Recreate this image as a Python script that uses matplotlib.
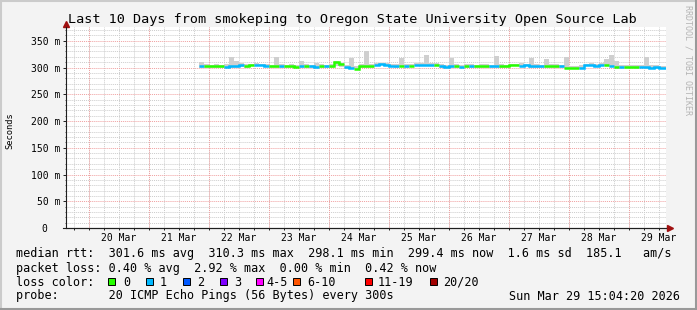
import matplotlib
matplotlib.use("Agg")
import matplotlib.pyplot as plt
import matplotlib.dates as mdates
from matplotlib.lines import Line2D
from matplotlib.patches import Rectangle
from matplotlib.ticker import MultipleLocator
import pandas as pd

W, H = 697, 310
MONO = "DejaVu Sans Mono"

graph_start = pd.Timestamp("2026-03-19 15:04:20")
graph_end = pd.Timestamp("2026-03-29 15:04:20")
data_start = pd.Timestamp("2026-03-21 20:00")

# median rtt per 2h bin (ms)
median_ms = [
    303, 302, 302, 302.5, 302, 301.5, 302, 302, 304, 302,
    304, 304.5, 304, 303.5, 302.5, 302, 302.5, 302, 302.5, 301,
    302, 302.5, 302, 301.5, 302, 302.5, 302, 310.3, 306, 300.5,
    298.5, 298.1, 302.5, 302, 302.5, 305.5, 306, 305.5, 303, 302.5,
    303, 302.5, 303, 305, 305, 304.5, 305, 305.5, 302, 301.5,
    302, 302, 301.5, 302, 302.5, 302, 302.5, 302.5, 302, 302.5,
    302, 302.5, 304, 304, 303.5, 304, 302.5, 302, 302.5, 302,
    303, 302.5, 302, 299.5, 299, 299.5, 300, 304, 304, 303.5,
    304, 304, 303.5, 301, 301.5, 301, 301, 300.5, 301, 300.5,
    300, 300.5, 300, 299.4,
]
# lost pings (of 20) per bin
loss_count = [
    1, 0, 0, 0, 0, 1, 1, 1, 1, 0,
    0, 1, 1, 1, 0, 0, 1, 0, 0, 0,
    1, 0, 1, 1, 0, 1, 0, 0, 0, 1,
    1, 0, 0, 0, 0, 1, 1, 1, 1, 1,
    0, 1, 0, 1, 1, 1, 1, 0, 1, 1,
    1, 0, 1, 0, 1, 0, 0, 0, 1, 1,
    0, 0, 0, 0, 1, 1, 1, 1, 1, 0,
    0, 0, 1, 0, 0, 0, 1, 1, 1, 1,
    1, 0, 1, 0, 1, 0, 0, 0, 1, 1,
    1, 1, 1, 1,
]
smoke_hi_ms = [
    310, 306, 305, 306, 305, 307, 319, 312, 308, 306,
    307, 308, 307, 306, 305, 319, 306, 305, 306, 305,
    312, 306, 305, 308, 306, 305, 306, 312, 309, 304,
    317, 302, 306, 331, 306, 308, 309, 308, 306, 307,
    317, 306, 307, 308, 308, 323, 308, 309, 306, 305,
    318, 306, 305, 306, 306, 305, 307, 306, 305, 321,
    306, 305, 307, 307, 308, 307, 317, 306, 305, 316,
    307, 306, 305, 320, 303, 303, 304, 307, 308, 307,
    309, 316, 323, 313, 305, 304, 305, 304, 304, 320,
    304, 305, 303, 303,
]
smoke_lo_ms = [
    300, 300, 300, 300, 300, 299, 300, 300, 301, 300,
    302, 302, 302, 301, 300, 300, 300, 300, 300, 299,
    300, 300, 300, 299, 300, 300, 300, 303, 301, 298,
    297, 297, 300, 300, 300, 303, 304, 303, 301, 300,
    301, 300, 301, 303, 303, 302, 303, 303, 300, 299,
    300, 300, 299, 300, 300, 300, 300, 300, 300, 300,
    300, 300, 302, 302, 301, 302, 300, 300, 300, 300,
    300, 300, 300, 297, 297, 297, 298, 302, 302, 301,
    302, 302, 301, 299, 299, 299, 299, 298, 299, 298,
    298, 298, 298, 297,
]

loss_labels = ["0", "1", "2", "3", "4-5", "6-10", "11-19", "20/20"]
loss_colors = ["#26ff00", "#00b8ff", "#0059ff", "#7e00ff",
               "#ff00ff", "#ff5500", "#ff0000", "#a10000"]
loss_box_x = [108, 146, 183, 220, 256, 293, 365, 430]
loss_label_x = [123, 160, 197, 234, 266, 307, 378, 443]

y_ticks = [0, 50, 100, 150, 200, 250, 300, 350]
y_tick_labels = ["0  ", "50 m", "100 m", "150 m", "200 m", "250 m", "300 m", "350 m"]

legend_lines = [
    "median rtt:  301.6 ms avg  310.3 ms max  298.1 ms min  299.4 ms now  1.6 ms sd  185.1   am/s",
    "packet loss: 0.40 % avg  2.92 % max  0.00 % min  0.42 % now",
    "loss color:",
    "probe:       20 ICMP Echo Pings (56 Bytes) every 300s",
]
legend_y = [254, 268.5, 282, 296]


def fx(x):
    return x / W


def fy(y):
    return 1 - y / H


fig = plt.figure(figsize=(W / 100, H / 100), dpi=100, facecolor="#f3f3f3")
ax = fig.add_axes([fx(66.4), fy(228), 600 / W, 200.6 / H])
ax.set_facecolor("white")

edges = pd.date_range(data_start, periods=len(median_ms) + 1, freq="2h")
edges_num = mdates.date2num(edges.to_pydatetime())

# smoke
ax.stairs(smoke_hi_ms, edges_num, baseline=smoke_lo_ms, fill=True,
          color="#cfcfcf", zorder=2)

# median line, one stair per run of equal loss colour
start = 0
for i in range(1, len(median_ms) + 1):
    if i == len(median_ms) or loss_count[i] != loss_count[start]:
        ax.stairs(median_ms[start:i], edges_num[start:i + 1], baseline=None,
                  color=loss_colors[loss_count[start]], lw=1.8, zorder=3)
        start = i

ax.set_xlim(mdates.date2num(graph_start.to_pydatetime()),
            mdates.date2num(graph_end.to_pydatetime()))
ax.set_ylim(0, 375)

ax.xaxis.set_major_locator(mdates.HourLocator(byhour=12))
ax.xaxis.set_major_formatter(mdates.DateFormatter("%d %b"))
ax.xaxis.set_minor_locator(mdates.HourLocator(byhour=[0, 6, 12, 18]))
ax.xaxis.remove_overlapping_locs = False
ax.set_yticks(y_ticks, y_tick_labels)
ax.yaxis.set_minor_locator(MultipleLocator(10))

grid_kw = dict(color="#cccccc", linestyle=(0, (1, 1)), lw=0.7)
ax.xaxis.grid(True, which="minor", **grid_kw)
ax.yaxis.grid(True, which="minor", **grid_kw)
ax.yaxis.grid(True, which="major", color="#f0a0a0", linestyle=(0, (1, 1)), lw=0.7)
for day in pd.date_range("2026-03-20", "2026-03-29", freq="D"):
    ax.axvline(mdates.date2num(day.to_pydatetime()), color="#f0a0a0",
               linestyle=(0, (1, 1)), lw=0.7, zorder=1)
ax.set_axisbelow(True)

for s in ("top", "right"):
    ax.spines[s].set_visible(False)
for s in ("left", "bottom"):
    ax.spines[s].set_color("#1f1f1f")
    ax.spines[s].set_linewidth(0.8)

ax.tick_params(axis="x", which="major", length=0, pad=3.8, labelsize=7)
ax.tick_params(axis="x", which="minor", length=1.5, color="#1f1f1f", width=0.7)
ax.tick_params(axis="y", which="major", length=2, pad=2.6, labelsize=7,
               color="#1f1f1f", width=0.7)
ax.tick_params(axis="y", which="minor", length=1, color="#1f1f1f", width=0.5)
for lab in ax.get_xticklabels() + ax.get_yticklabels():
    lab.set_fontfamily(MONO)

# axis arrows
ax.plot([-0.006, 1.006], [0, 0], transform=ax.transAxes, color="#1f1f1f",
        lw=0.8, clip_on=False)
ax.plot(1.0068, 0, marker=">", ms=4, color="#a01010", transform=ax.transAxes,
        clip_on=False)
ax.plot([0, 0], [1.0, 1.012], transform=ax.transAxes, color="#1f1f1f",
        lw=0.8, clip_on=False)
ax.plot(0, 1.0184, marker="^", ms=4, color="#a01010", transform=ax.transAxes,
        clip_on=False)

fig.text(fx(68), fy(19), "Last 10 Days from smokeping to Oregon State University Open Source Lab",
         family=MONO, size=9.7, ha="left", va="center")
fig.text(fx(10), fy(131), "Seconds", family=MONO, size=6.3, rotation=90,
         ha="center", va="center")
fig.text(fx(688), fy(60), "RRDTOOL / TOBI OETIKER", family=MONO, size=6,
         rotation=270, ha="center", va="center", color="#b4b4b4")

for text, y in zip(legend_lines, legend_y):
    fig.text(fx(16), fy(y), text, family=MONO, size=8.5, ha="left", va="center")
fig.text(fx(680), fy(296), "Sun Mar 29 15:04:20 2026", family=MONO, size=8.5,
         ha="right", va="center")

for bx, lx, lab, col in zip(loss_box_x, loss_label_x, loss_labels, loss_colors):
    fig.add_artist(Rectangle((fx(bx), fy(285)), 7 / W, 7 / H, transform=fig.transFigure,
                             facecolor=col, edgecolor="black", lw=0.7))
    fig.text(fx(lx), fy(282), lab, family=MONO, size=8.5, ha="left", va="center")

# 3d frame
for (x0, y0, x1, y1), c in [((0.5, 0.5, W, 0.5), "#cbcbcb"), ((0.5, 0.5, 0.5, H), "#cbcbcb"),
                            ((0, H - 1, W, H - 1), "#999999"), ((W - 1, 0, W - 1, H), "#999999")]:
    fig.add_artist(Line2D([fx(x0), fx(x1)], [fy(y0), fy(y1)], transform=fig.transFigure,
                          color=c, lw=1.5))

fig.savefig("out.png", dpi=100, facecolor=fig.get_facecolor())
